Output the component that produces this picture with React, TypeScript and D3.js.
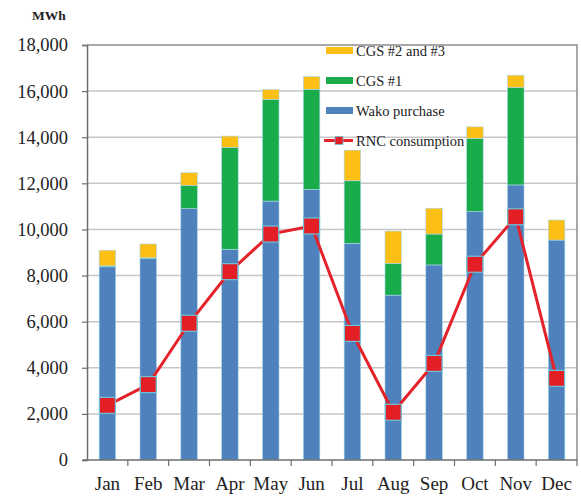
import React, { useEffect, useRef } from 'react';
import * as d3 from 'd3';

const months = ['Jan', 'Feb', 'Mar', 'Apr', 'May', 'Jun', 'Jul', 'Aug', 'Sep', 'Oct', 'Nov', 'Dec'];
const wakoPurchase = [8380, 8730, 10900, 9140, 11230, 11740, 9400, 7150, 8460, 10770, 11930, 9540];
const cgs1 = [40, 40, 1010, 4420, 4410, 4340, 2710, 1380, 1340, 3180, 4230, 0];
const cgs23 = [680, 600, 550, 490, 430, 550, 1330, 1400, 1120, 500, 530, 870];
const rncConsumption = [2370, 3270, 5930, 8170, 9800, 10150, 5490, 2070, 4190, 8490, 10550, 3540];
const yTicks = [0, 2000, 4000, 6000, 8000, 10000, 12000, 14000, 16000, 18000];

const seriesKeys = ['wako', 'cgs1', 'cgs23'];
const colors: any = { wako: '#4f81bd', cgs1: '#1aab4b', cgs23: '#fbbf16' };
const legendItems = [
  { key: 'cgs23', label: 'CGS #2 and #3' },
  { key: 'cgs1', label: 'CGS #1' },
  { key: 'wako', label: 'Wako purchase' },
  { key: 'rnc', label: 'RNC consumption' },
];

const FONT = '"Liberation Serif", "Times New Roman", serif';

const App = () => {
  const ref = useRef<SVGSVGElement | null>(null);

  useEffect(() => {
    if (!ref.current) return;
    const svg = d3.select(ref.current);
    svg.selectAll('*').remove();

    const left = 87, right = 577, top = 45, bottom = 460;

    const x = d3.scaleBand().domain(months).range([left, right]).padding(0);
    const y = d3.scaleLinear().domain([0, 18000]).range([bottom, top]);
    const barW = x.bandwidth() * 0.405;

    // 数据表
    const table = months.map((m, i) => ({ month: m, wako: wakoPurchase[i], cgs1: cgs1[i], cgs23: cgs23[i] }));
    const stacked = d3.stack<any>().keys(seriesKeys)(table);

    // 网格线
    svg.append('g')
      .selectAll('line')
      .data(yTicks.filter(t => t > 0 && t < 18000))
      .enter()
      .append('line')
      .attr('x1', left).attr('x2', right)
      .attr('y1', d => y(d)).attr('y2', d => y(d))
      .attr('stroke', '#c6c6c6').attr('stroke-width', 1.5);

    // 外框
    svg.append('path')
      .attr('d', `M${left},${y(18000)}H${right}V${bottom}`)
      .attr('fill', 'none').attr('stroke', '#8c8c8c').attr('stroke-width', 1.5);

    // 堆叠柱
    svg.append('g')
      .selectAll('g')
      .data(stacked)
      .enter()
      .append('g')
      .attr('fill', (s: any) => colors[s.key])
      .selectAll('rect')
      .data((s: any) => s)
      .enter()
      .append('rect')
      .attr('x', (d: any) => x(d.data.month)! + (x.bandwidth() - barW) / 2)
      .attr('y', (d: any) => y(d[1]))
      .attr('width', barW)
      .attr('height', (d: any) => Math.max(0, y(d[0]) - y(d[1])))
      .attr('stroke', '#a9d8ec').attr('stroke-width', 0.6);

    // 坐标轴
    const yAxis = svg.append('g').attr('transform', `translate(${left},0)`)
      .call(d3.axisLeft(y).tickValues(yTicks).tickSize(5).tickPadding(14).tickFormat(d3.format(',')) as any);
    yAxis.attr('font-family', FONT).attr('font-size', 18.5);
    yAxis.select('.domain').attr('stroke', '#6e6e6e').attr('stroke-width', 1.5);
    yAxis.selectAll('.tick line').attr('stroke', '#6e6e6e').attr('stroke-width', 1.2);
    yAxis.selectAll('text').style('font-family', FONT).style('font-size', '18.5px').attr('fill', '#222');

    const xEdges = months.map(m => x(m)!).concat([right]);
    svg.append('line')
      .attr('x1', left - 4).attr('x2', right)
      .attr('y1', bottom).attr('y2', bottom)
      .attr('stroke', '#6e6e6e').attr('stroke-width', 1.5);
    svg.append('g')
      .selectAll('line')
      .data(xEdges.slice(1))
      .enter()
      .append('line')
      .attr('x1', d => d).attr('x2', d => d)
      .attr('y1', bottom).attr('y2', bottom + 6)
      .attr('stroke', '#6e6e6e').attr('stroke-width', 1.2);
    svg.append('g')
      .selectAll('text')
      .data(months)
      .enter()
      .append('text')
      .attr('x', d => x(d)! + x.bandwidth() / 2)
      .attr('y', 490)
      .attr('text-anchor', 'middle')
      .style('font-family', FONT).attr('font-size', 19).attr('fill', '#222')
      .text(d => d);

    // 单位
    svg.append('text')
      .attr('x', 32).attr('y', 19.5)
      .style('font-family', FONT).attr('font-size', 13.5).attr('font-weight', 'bold').attr('fill', '#222')
      .text('MWh');

    // RNC 折线
    const line = d3.line<number>()
      .x((_, i) => x(months[i])! + x.bandwidth() / 2)
      .y(d => y(d));
    svg.append('path')
      .datum(rncConsumption)
      .attr('d', line)
      .attr('fill', 'none').attr('stroke', '#e4222a').attr('stroke-width', 3);
    const ms = 16;
    svg.append('g')
      .selectAll('rect')
      .data(rncConsumption)
      .enter()
      .append('rect')
      .attr('x', (_, i) => x(months[i])! + x.bandwidth() / 2 - ms / 2)
      .attr('y', d => y(d) - ms / 2)
      .attr('width', ms).attr('height', ms)
      .attr('fill', '#e31e24').attr('stroke', '#6cc3da').attr('stroke-width', 1.2);

    // 图例
    const lg = svg.append('g');
    legendItems.forEach((item, i) => {
      const cy = 50.5 + i * 30;
      if (item.key === 'rnc') {
        lg.append('line').attr('x1', 324).attr('x2', 353).attr('y1', cy).attr('y2', cy)
          .attr('stroke', '#e4222a').attr('stroke-width', 3);
        lg.append('rect').attr('x', 335).attr('y', cy - 4).attr('width', 8).attr('height', 8)
          .attr('fill', '#e31e24').attr('stroke', '#6cc3da').attr('stroke-width', 0.8);
      } else {
        lg.append('rect').attr('x', 326).attr('y', cy - 3.5).attr('width', 27).attr('height', 7)
          .attr('fill', colors[item.key]);
      }
      lg.append('text')
        .attr('x', 356).attr('y', cy + 5)
        .style('font-family', FONT).attr('font-size', 14.5).attr('fill', '#222')
        .text(item.label);
    });
  }, []);

  return (
    <svg ref={ref} width={581} height={496} style={{ position: 'absolute', left: 0, top: 0, background: '#fff' }} />
  );
};

export default App;
